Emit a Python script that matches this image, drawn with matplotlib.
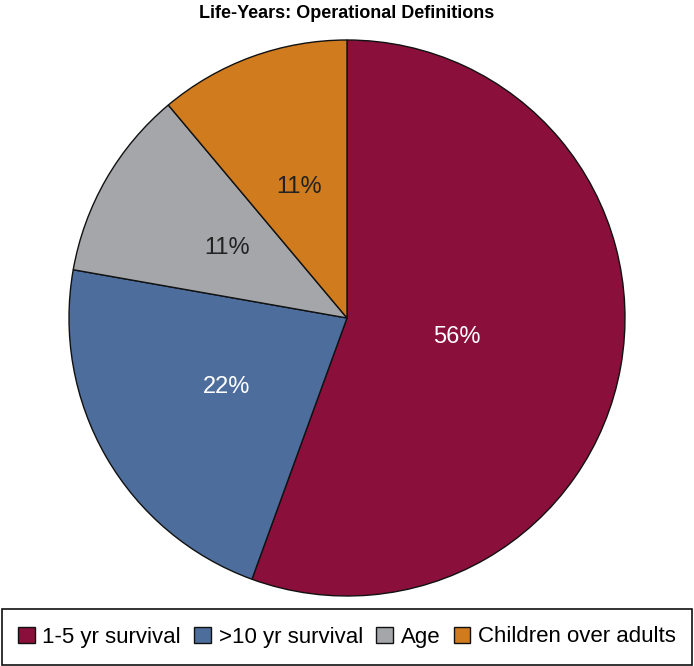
import matplotlib.pyplot as plt
from matplotlib.patches import Rectangle

labels = ['1-5 yr survival', '>10 yr survival', 'Age', 'Children over adults']
counts = [5, 2, 1, 1]
colors = ['#8A0F3A', '#4D6D9C', '#A4A6A9', '#CF7B1E']
text_colors = ['white', 'white', '#222222', '#222222']

plt.rcParams['font.family'] = ['Liberation Sans', 'DejaVu Sans']

fig = plt.figure(figsize=(6.94, 6.66), dpi=100)
ax = fig.add_axes([69 / 694, 70 / 666, 556 / 694, 556 / 666])

wedges, texts, autotexts = ax.pie(
    counts, colors=colors, startangle=90, counterclock=False,
    autopct='%1.0f%%', pctdistance=0.5,
    wedgeprops={'edgecolor': '#111111', 'linewidth': 1.0},
    textprops={'fontsize': 17})
for t, c in zip(autotexts, text_colors):
    t.set_color(c)
# the big slice label sits a bit closer to the centre
x, y = autotexts[0].get_position()
autotexts[0].set_position((x * 0.8, y * 0.8))

ax.set_xlim(-1, 1)
ax.set_ylim(-1, 1)
ax.set_aspect('equal')

fig.text(0.5, 1 - 14 / 666, 'Life-Years: Operational Definitions',
         ha='center', va='center', fontsize=13, fontweight='bold')

fig.patches.append(Rectangle((2 / 694, 1 / 666), 690 / 694, 56 / 666,
                             transform=fig.transFigure, fill=False,
                             edgecolor='#111111', linewidth=1.2))
fig.legend(wedges, labels, loc='center', bbox_to_anchor=(0.5, 29 / 666),
           ncol=4, frameon=False, fontsize=16, handlelength=0.75,
           handleheight=0.75, handletextpad=0.35, columnspacing=0.6)

plt.savefig('out.png')
